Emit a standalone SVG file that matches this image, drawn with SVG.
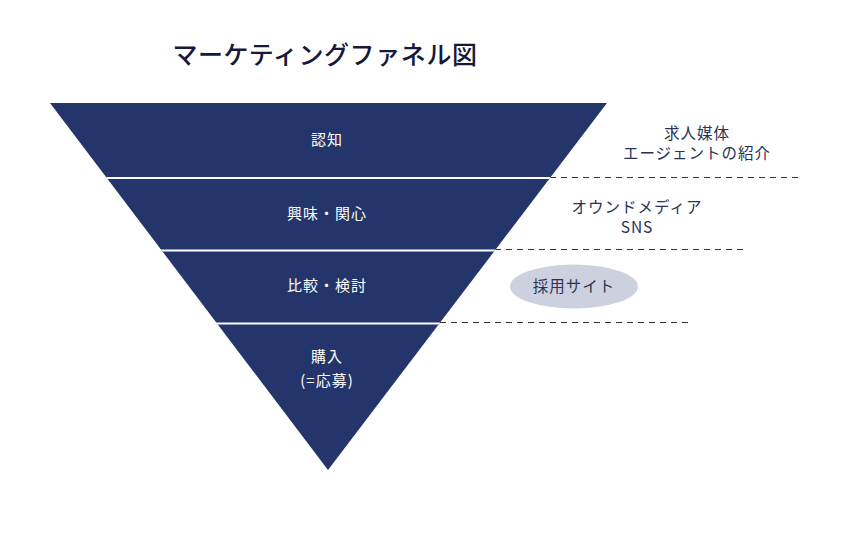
<svg xmlns="http://www.w3.org/2000/svg" width="851" height="535" viewBox="0 0 851 535">
<style>
.t{font-family:"Noto Sans CJK JP","Noto Sans",sans-serif;}
.w{fill:#ffffff;font-size:15px;text-anchor:middle;letter-spacing:1px;}
.d{fill:#2a3256;font-size:15.5px;text-anchor:middle;letter-spacing:1px;}
.sep{stroke:#ffffff;stroke-width:2;}
.dash{stroke:#333333;stroke-width:1;stroke-dasharray:6 5;fill:none;}
</style>
<defs>
<clipPath id="tri"><polygon points="50,103 607,103 328,470"/></clipPath>
</defs>
<rect width="851" height="535" fill="#ffffff"/>
<text class="t" x="325" y="64" font-size="25" font-weight="500" fill="#15193a" text-anchor="middle" letter-spacing="0.6">マーケティングファネル図</text>
<g id="connectors">
<line class="dash" x1="550" y1="177.5" x2="802" y2="177.5"/>
<line class="dash" x1="495" y1="249.5" x2="746" y2="249.5"/>
<line class="dash" x1="440" y1="322.5" x2="692" y2="322.5"/>
</g>
<g id="funnel">
<polygon points="50,103 607,103 328,470" fill="#23356a"/>
<g clip-path="url(#tri)">
<line class="sep" x1="50" y1="178" x2="607" y2="178"/>
<line class="sep" x1="50" y1="250.5" x2="607" y2="250.5"/>
<line class="sep" x1="50" y1="323.5" x2="607" y2="323.5"/>
</g>
</g>
<g id="node-awareness"><text class="t w" x="327" y="144.5">認知</text></g>
<g id="node-interest"><text class="t w" x="327" y="218.5">興味・関心</text></g>
<g id="node-compare"><text class="t w" x="327" y="290.5">比較・検討</text></g>
<g id="node-purchase">
<text class="t w" x="327" y="361.5">購入</text>
<text class="t w" x="327" y="385.5">(=応募)</text>
</g>
<g id="node-media">
<text class="t d" x="697" y="138.5">求人媒体</text>
<text class="t d" x="697" y="158.5">エージェントの紹介</text>
</g>
<g id="node-owned">
<text class="t d" x="637" y="212.5">オウンドメディア</text>
<text class="t d" x="637" y="232.5">SNS</text>
</g>
<g id="node-site">
<ellipse cx="574" cy="286.5" rx="64" ry="22" fill="#cdd1df"/>
<text class="t d" x="574" y="292">採用サイト</text>
</g>
</svg>
